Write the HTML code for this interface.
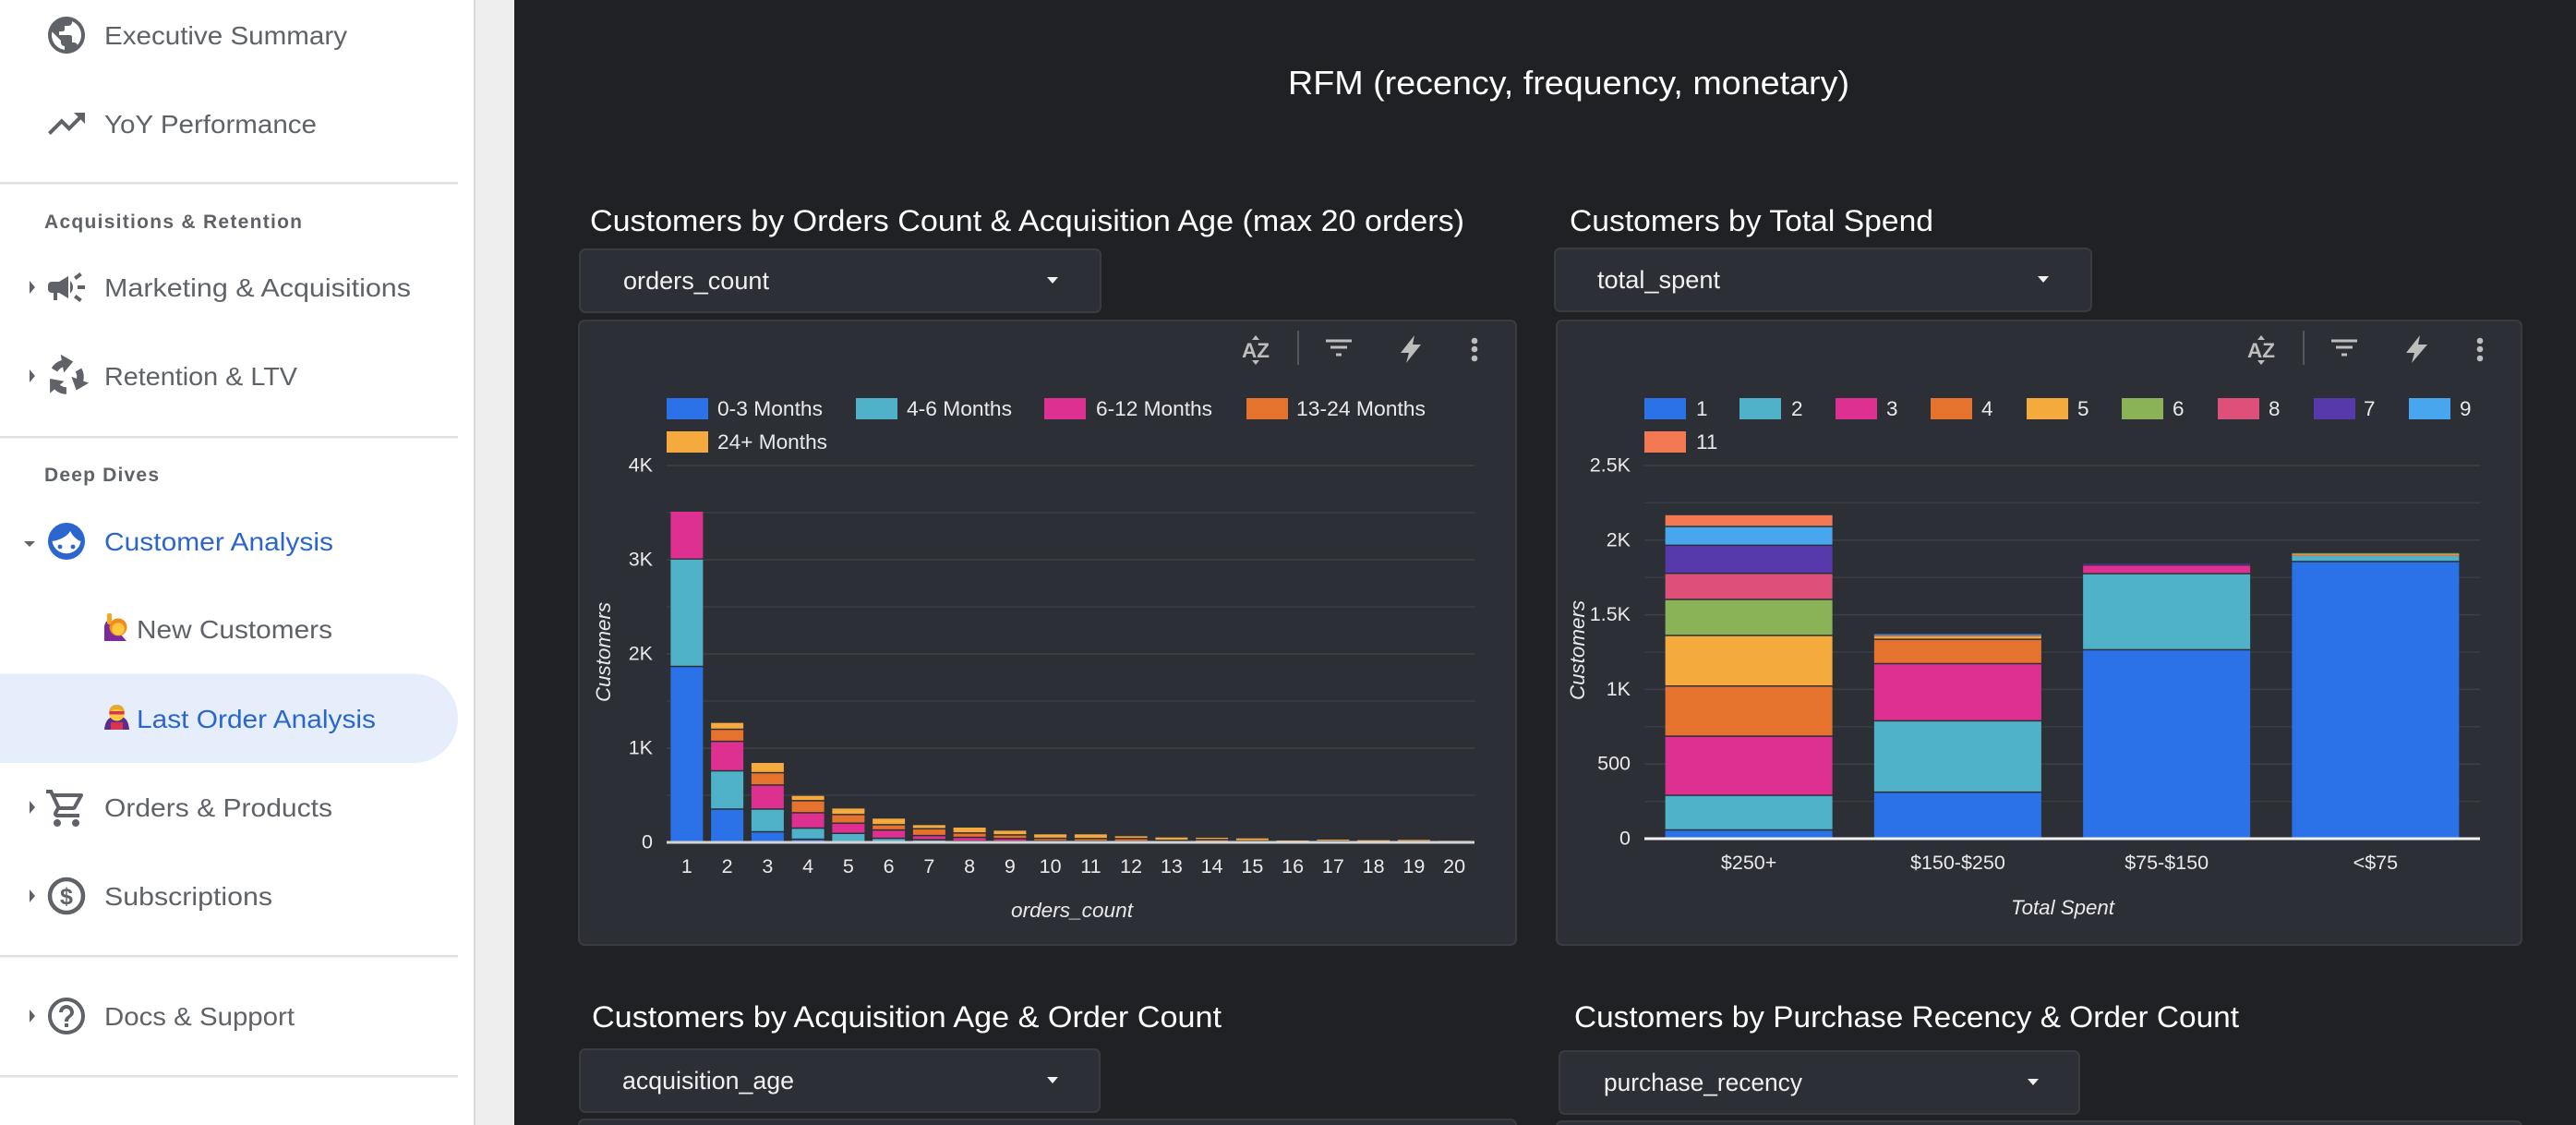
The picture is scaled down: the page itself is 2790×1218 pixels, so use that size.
<!DOCTYPE html>
<html lang="en">
<head>
<meta charset="utf-8">
<title>RFM Dashboard</title>
<style>
html,body{margin:0;padding:0;background:#202124;width:2790px;height:1218px;overflow:hidden}
svg{display:block;font-family:"Liberation Sans",sans-serif}
.nav{font-size:28px;fill:#5f6368}
.nav.active{fill:#2b66cf}
.hdr{font-size:21px;fill:#5f6368;font-weight:bold}
.ttl{font-size:32.5px;fill:#fff}
.dd{font-size:26.5px;fill:#f1f1f1}
.lg{font-size:22.5px;fill:#e8eaed}
.card{fill:#2d2f36;stroke:#393b41;stroke-width:2}
.ddbox{fill:#2d2f36;stroke:#393b41;stroke-width:2}
.ic{fill:#5f6368}
.tool{fill:#bdbdbd}
</style>
</head>
<body>
<svg id="page" xmlns="http://www.w3.org/2000/svg" width="2790" height="1218" viewBox="0 0 2790 1218">
  <rect x="0" y="0" width="2790" height="1218" fill="#202124"/>
  <rect x="513" y="0" width="44" height="1218" fill="#eeeeee"/>
  <rect x="0" y="0" width="513" height="1218" fill="#ffffff"/>
  <rect x="513" y="0" width="2" height="1218" fill="#d9dae0"/>

  <g>
    <rect x="-60" y="729.5" width="556" height="96.5" rx="48" fill="#e6eefb"/>
    <rect x="0" y="197" width="496" height="2.5" fill="#e0e0e0"/>
    <rect x="0" y="472" width="496" height="2.5" fill="#e0e0e0"/>
    <rect x="0" y="1034" width="496" height="2.5" fill="#e0e0e0"/>
    <rect x="0" y="1164" width="496" height="2.5" fill="#e0e0e0"/>

    <path class="ic" transform="translate(48,14) scale(2)" d="M12 2C6.48 2 2 6.48 2 12s4.48 10 10 10 10-4.48 10-10S17.52 2 12 2zm-1 17.93c-3.95-.49-7-3.85-7-7.93 0-.62.08-1.21.21-1.79L9 15v1c0 1.1.9 2 2 2v1.93zm6.9-2.54c-.26-.81-1-1.39-1.9-1.39h-1v-3c0-.55-.45-1-1-1H8v-2h2c.55 0 1-.45 1-1V7h2c1.1 0 2-.9 2-2v-.41c2.93 1.19 5 4.06 5 7.41 0 2.08-.8 3.97-2.1 5.39z"/>
    <text class="nav" x="113" y="48" textLength="263" lengthAdjust="spacingAndGlyphs">Executive Summary</text>

    <path class="ic" transform="translate(48,110) scale(2)" d="M16 6l2.29 2.29-4.88 4.88-4-4L2 16.59 3.41 18l6-6 4 4 6.3-6.29L22 12V6z"/>
    <text class="nav" x="113" y="144" textLength="230" lengthAdjust="spacingAndGlyphs">YoY Performance</text>

    <text class="hdr" x="48" y="247" textLength="279" lengthAdjust="spacing">Acquisitions &amp; Retention</text>

    <polygon class="ic" points="32,304 38,311 32,318"/>
    <path class="ic" transform="translate(48,287) scale(2)" d="M18 11v2h4v-2h-4zm-2 6.61c.96.71 2.21 1.65 3.2 2.39.4-.53.8-1.07 1.2-1.6-.99-.74-2.24-1.68-3.2-2.4-.4.54-.8 1.08-1.2 1.61zM20.4 5.6c-.4-.53-.8-1.07-1.2-1.6-.99.74-2.24 1.68-3.2 2.4.4.53.8 1.07 1.2 1.6.96-.72 2.21-1.65 3.2-2.4zM4 9c-1.1 0-2 .9-2 2v2c0 1.1.9 2 2 2h1v4h2v-4h1l5 3V6L8 9H4zm11.5 3c0-1.33-.58-2.53-1.5-3.35v6.69c.92-.81 1.5-2.01 1.5-3.34z"/>
    <text class="nav" x="113" y="321" textLength="332" lengthAdjust="spacingAndGlyphs">Marketing &amp; Acquisitions</text>

    <polygon class="ic" points="32,400 38,407 32,414"/>
    <g>
      <circle cx="72" cy="408" r="15" fill="none" stroke="#5f6368" stroke-width="7.5" stroke-dasharray="11.8 19.6" transform="rotate(-150 72 408)"/>
      <polygon class="ic" transform="translate(72,408) rotate(-10)" points="-2,-25 -2,-5 10,-15"/>
      <polygon class="ic" transform="translate(72,408) rotate(110)" points="-2,-25 -2,-5 10,-15"/>
      <polygon class="ic" transform="translate(72,408) rotate(230)" points="-2,-25 -2,-5 10,-15"/>
    </g>
    <text class="nav" x="113" y="417" textLength="209" lengthAdjust="spacingAndGlyphs">Retention &amp; LTV</text>

    <text class="hdr" x="48" y="521" textLength="124" lengthAdjust="spacing">Deep Dives</text>

    <polygon class="ic" points="26,586 38,586 32,592"/>
    <g>
      <circle cx="72" cy="586" r="20" fill="#2b66cf"/>
      <path d="M56.5 586 C63 585 72 582 76 575 C79 581 84 585 87.500 586 A15.7 15.7 0 0 1 56.500 586 Z" fill="#fff"/>
      <circle cx="65" cy="592" r="2.4" fill="#2b66cf"/>
      <circle cx="79" cy="592" r="2.4" fill="#2b66cf"/>
    </g>
    <text class="nav active" x="113" y="596" textLength="248" lengthAdjust="spacingAndGlyphs">Customer Analysis</text>

    <g>
      <path d="M113 694 L113 678 Q114 672 118 672 L120 682 L130 686 L137 694 Z" fill="#7b2a9c"/>
      <rect x="116" y="664" width="5" height="12" rx="2" fill="#f5a623"/>
      <circle cx="128" cy="679" r="9.5" fill="#f08c1e"/>
      <circle cx="128" cy="681" r="6.8" fill="#ffc83d"/>
    </g>
    <text class="nav" x="148" y="691" textLength="212" lengthAdjust="spacingAndGlyphs">New Customers</text>

    <g>
      <path d="M113 790 Q114 778 122 776 L132 776 Q139 778 140 790 Z" fill="#5b2d8e"/>
      <rect x="120" y="782" width="13" height="8" fill="#d8344f"/>
      <circle cx="126.500" cy="772" r="8.500" fill="#ffc83d"/>
      <path d="M118 771 Q119 763 126.500 763 Q134 763 135 771 Q126.500 765 118 771 Z" fill="#e8a82c"/>
      <rect x="118.500" y="770" width="16" height="3.500" fill="#d8344f"/>
    </g>
    <text class="nav active" x="148" y="788" textLength="259" lengthAdjust="spacingAndGlyphs">Last Order Analysis</text>

    <polygon class="ic" points="32,867 38,874 32,881"/>
    <path class="ic" transform="translate(48,851) scale(2)" d="M15.55 13c.75 0 1.41-.41 1.75-1.03l3.58-6.49c.37-.66-.11-1.48-.87-1.48H5.21l-.94-2H1v2h2l3.6 7.59-1.35 2.44C4.52 15.37 5.48 17 7 17h12v-2H7l1.1-2h7.45zM6.16 6h12.15l-2.76 5H8.53L6.16 6zM7 18c-1.1 0-1.99.9-1.99 2S5.9 22 7 22s2-.9 2-2-.9-2-2-2zm10 0c-1.1 0-1.99.9-1.99 2s.89 2 1.99 2 2-.9 2-2-.9-2-2-2z"/>
    <text class="nav" x="113" y="884" textLength="247" lengthAdjust="spacingAndGlyphs">Orders &amp; Products</text>

    <polygon class="ic" points="32,963 38,970 32,977"/>
    <g>
      <circle cx="72" cy="970" r="18" fill="none" stroke="#5f6368" stroke-width="4.500"/>
      <text x="72" y="979" text-anchor="middle" font-size="25" font-weight="bold" fill="#5f6368">$</text>
    </g>
    <text class="nav" x="113" y="980" textLength="182" lengthAdjust="spacingAndGlyphs">Subscriptions</text>

    <polygon class="ic" points="32,1093 38,1100 32,1107"/>
    <path class="ic" transform="translate(48,1076) scale(2)" d="M11 18h2v-2h-2v2zm1-16C6.48 2 2 6.48 2 12s4.48 10 10 10 10-4.48 10-10S17.52 2 12 2zm0 18c-4.41 0-8-3.59-8-8s3.59-8 8-8 8 3.59 8 8-3.59 8-8 8zm0-14c-2.21 0-4 1.79-4 4h2c0-1.1.9-2 2-2s2 .9 2 2c0 2-3 1.75-3 5h2c0-2.25 3-2.5 3-5 0-2.21-1.79-4-4-4z"/>
    <text class="nav" x="113" y="1110" textLength="206" lengthAdjust="spacingAndGlyphs">Docs &amp; Support</text>
  </g>

  <text x="1395" y="102" font-size="36" fill="#fff" textLength="608" lengthAdjust="spacingAndGlyphs">RFM (recency, frequency, monetary)</text>

  <text class="ttl" x="639" y="250" textLength="947" lengthAdjust="spacingAndGlyphs">Customers by Orders Count &amp; Acquisition Age (max 20 orders)</text>
  <text class="ttl" x="1700" y="250" textLength="394" lengthAdjust="spacingAndGlyphs">Customers by Total Spend</text>
  <text class="ttl" x="641" y="1112" textLength="682" lengthAdjust="spacingAndGlyphs">Customers by Acquisition Age &amp; Order Count</text>
  <text class="ttl" x="1705" y="1112" textLength="720" lengthAdjust="spacingAndGlyphs">Customers by Purchase Recency &amp; Order Count</text>

  <g>
    <rect class="ddbox" x="628" y="270" width="564" height="68" rx="6"/>
    <text class="dd" x="675" y="313" textLength="158" lengthAdjust="spacingAndGlyphs">orders_count</text>
    <polygon points="1134,300 1146,300 1140,307" fill="#f1f1f1"/>
  </g>
  <g>
    <rect class="ddbox" x="1684" y="269" width="581" height="68" rx="6"/>
    <text class="dd" x="1730" y="312" textLength="133" lengthAdjust="spacingAndGlyphs">total_spent</text>
    <polygon points="2207,299 2219,299 2213,306" fill="#f1f1f1"/>
  </g>
  <g>
    <rect class="ddbox" x="628" y="1136" width="563" height="68" rx="6"/>
    <text class="dd" x="674" y="1179" textLength="186" lengthAdjust="spacingAndGlyphs">acquisition_age</text>
    <polygon points="1134,1166 1146,1166 1140,1173" fill="#f1f1f1"/>
  </g>
  <g>
    <rect class="ddbox" x="1689" y="1138" width="563" height="68" rx="6"/>
    <text class="dd" x="1737" y="1181" textLength="215" lengthAdjust="spacingAndGlyphs">purchase_recency</text>
    <polygon points="2196,1168 2208,1168 2202,1175" fill="#f1f1f1"/>
  </g>

  <rect class="card" x="627" y="347" width="1015" height="676" rx="6"/>
  <rect class="card" x="1686" y="347" width="1045" height="676" rx="6"/>
  <rect class="card" x="627" y="1212" width="1015" height="60" rx="6"/>
  <rect class="card" x="1686" y="1214" width="1045" height="60" rx="6"/>

  <g>
    <g>
      <text class="tool" x="1360" y="387" text-anchor="middle" font-size="22" font-weight="bold" textLength="30" lengthAdjust="spacingAndGlyphs">AZ</text>
      <polygon class="tool" points="1356,368 1364,368 1360,363"/>
      <polygon class="tool" points="1356,390 1364,390 1360,395"/>
    </g>
    <rect x="1405" y="358" width="2" height="37" fill="#55575c"/>
    <g class="tool">
      <rect x="1436" y="367.500" width="28" height="3"/><rect x="1441" y="374.500" width="18" height="3"/><rect x="1447" y="382.500" width="6" height="3"/>
    </g>
    <polygon class="tool" points="1532,363 1517,382 1526,382 1523,393 1539,373 1530,373"/>
    <g class="tool">
      <circle cx="1597" cy="369" r="3.300"/><circle cx="1597" cy="378" r="3.300"/><circle cx="1597" cy="388" r="3.300"/>
    </g>
  </g>
  <g>
    <g>
      <text class="tool" x="2449" y="387" text-anchor="middle" font-size="22" font-weight="bold" textLength="30" lengthAdjust="spacingAndGlyphs">AZ</text>
      <polygon class="tool" points="2445,368 2453,368 2449,363"/>
      <polygon class="tool" points="2445,390 2453,390 2449,395"/>
    </g>
    <rect x="2494" y="358" width="2" height="37" fill="#55575c"/>
    <g class="tool">
      <rect x="2525" y="367.500" width="28" height="3"/><rect x="2530" y="374.500" width="18" height="3"/><rect x="2536" y="382.500" width="6" height="3"/>
    </g>
    <polygon class="tool" points="2621,363 2606,382 2615,382 2612,393 2629,373 2619,373"/>
    <g class="tool">
      <circle cx="2686" cy="369" r="3.300"/><circle cx="2686" cy="378" r="3.300"/><circle cx="2686" cy="388" r="3.300"/>
    </g>
  </g>

  <g>
    <g><rect x="722" y="431" width="45" height="23" fill="#2b72e8"/><text class="lg" x="777" y="450" textLength="114" lengthAdjust="spacingAndGlyphs">0-3 Months</text></g>
    <g><rect x="927" y="431" width="45" height="23" fill="#50b2c8"/><text class="lg" x="982" y="450" textLength="114" lengthAdjust="spacingAndGlyphs">4-6 Months</text></g>
    <g><rect x="1131" y="431" width="45" height="23" fill="#de3090"/><text class="lg" x="1187" y="450" textLength="126" lengthAdjust="spacingAndGlyphs">6-12 Months</text></g>
    <g><rect x="1350" y="431" width="45" height="23" fill="#e5732d"/><text class="lg" x="1404" y="450" textLength="140" lengthAdjust="spacingAndGlyphs">13-24 Months</text></g>
    <g><rect x="722" y="467" width="45" height="23" fill="#f4aa3c"/><text class="lg" x="777" y="486" textLength="119" lengthAdjust="spacingAndGlyphs">24+ Months</text></g>
  </g>
  <g>
    <g><rect x="1781" y="431" width="45" height="23" fill="#2b72e8"/><text class="lg" x="1837" y="450">1</text></g>
    <g><rect x="1884" y="431" width="45" height="23" fill="#50b2c8"/><text class="lg" x="1940" y="450">2</text></g>
    <g><rect x="1988" y="431" width="45" height="23" fill="#de3090"/><text class="lg" x="2043" y="450">3</text></g>
    <g><rect x="2091" y="431" width="45" height="23" fill="#e5732d"/><text class="lg" x="2146" y="450">4</text></g>
    <g><rect x="2195" y="431" width="45" height="23" fill="#f4aa3c"/><text class="lg" x="2250" y="450">5</text></g>
    <g><rect x="2298" y="431" width="45" height="23" fill="#8ab257"/><text class="lg" x="2353" y="450">6</text></g>
    <g><rect x="2402" y="431" width="45" height="23" fill="#dc5079"/><text class="lg" x="2457" y="450">8</text></g>
    <g><rect x="2506" y="431" width="45" height="23" fill="#5639ab"/><text class="lg" x="2560" y="450">7</text></g>
    <g><rect x="2609" y="431" width="45" height="23" fill="#47a6ee"/><text class="lg" x="2664" y="450">9</text></g>
    <g><rect x="1781" y="467" width="45" height="23" fill="#f27951"/><text class="lg" x="1837" y="486">11</text></g>
  </g>

  <g id="orders-chart"></g>
  <g id="spend-chart"></g>
</svg>

<script>
// Orders chart data
const orderCategories = ['1','2','3','4','5','6','7','8','9','10','11','12','13','14','15','16','17','18','19','20'];
const age0to3   = [1860,346,105,26,0,0,0,0,0,0,0,0,0,0,0,0,0,0,0,0];
const age4to6   = [1140,406,241,118,88,36,20,5,3,0,0,0,0,0,0,0,0,0,0,0];
const age6to12  = [510,313,255,163,108,88,45,41,30,8,5,3,2,0,0,0,0,0,0,0];
const age13to24 = [0,128,131,128,92,56,72,46,39,28,28,30,12,22,8,3,5,3,4,2];
const age24plus = [0,75,111,58,71,72,46,65,52,49,52,32,38,27,34,17,24,20,22,14];
const orderTickValues = [0,1000,2000,3000,4000];
const orderTickLabels = ['0','1K','2K','3K','4K'];
const orderMinorTicks = [500,1500,2500,3500];

// Spend chart data
const spendCategories = ['$250+','$150-$250','$75-$150','<$75'];
const spendOrders1  = [54,307,1261,1852];
const spendOrders2  = [232,478,510,45];
const spendOrders3  = [396,383,58,4];
const spendOrders4  = [336,163,0,2];
const spendOrders5  = [339,24,0,2];
const spendOrders6  = [241,5,0,8];
const spendOrders8  = [175,3,0,0];
const spendOrders7  = [188,0,12,0];
const spendOrders9  = [126,7,0,0];
const spendOrders11 = [80,0,0,0];
const spendTickValues = [0,500,1000,1500,2000,2500];
const spendTickLabels = ['0','500','1K','1.5K','2K','2.5K'];
const spendMinorTicks = [250,750,1250,1750,2250];

const SVGNS = 'http://www.w3.org/2000/svg';
function mk(parent, tag, attrs, txt) {
  const el = document.createElementNS(SVGNS, tag);
  for (const k in attrs) el.setAttribute(k, attrs[k]);
  if (txt !== undefined) el.textContent = txt;
  parent.appendChild(el);
  return el;
}

function drawChart(root, cfg) {
  const yOf = v => cfg.y0 - (v / cfg.yMax) * (cfg.y0 - cfg.yTop);
  const step = (cfg.x1 - cfg.x0) / cfg.categories.length;
  const xOf = i => cfg.x0 + (i + 0.5) * step;
  const barW = step * cfg.barRatio;

  cfg.minor.forEach(v => {
    const gl = mk(root, 'rect', {x: cfg.x0, y: yOf(v) - 0.75, width: cfg.x1 - cfg.x0, height: 1.5, fill: '#3b3d43'});
    
    
  });
  cfg.ticks.forEach((v, i) => {
    if (v !== 0) {
      const gl = mk(root, 'rect', {x: cfg.x0, y: yOf(v) - 0.75, width: cfg.x1 - cfg.x0, height: 1.5, fill: '#3e4046'});
      
      
    }
    const tl = mk(root, 'text', {x: cfg.x0 - 15, y: yOf(v) + 6.5, 'text-anchor': 'end', 'font-size': 21.5, fill: '#e8eaed'}, cfg.tickLabels[i]);
    
    
  });

  cfg.categories.forEach((cat, i) => {
    let cum = 0;
    cfg.series.forEach((values, s) => {
      const val = values[i];
      if (val <= 0) return;
      const top = yOf(cum + val);
      const bottom = yOf(cum);
      cum += val;
      const h = Math.max(bottom - top - 1.5, 1);
      const seg = mk(root, 'rect', {x: xOf(i) - barW / 2, y: top, width: barW, height: h, fill: cfg.colors[s]});
      
      
    });
    const xl = mk(root, 'text', {x: xOf(i), y: cfg.xLabelY, 'text-anchor': 'middle', 'font-size': 21.5, fill: '#e8eaed'}, cat);
    
    
  });

  const axis = mk(root, 'rect', {x: cfg.x0, y: cfg.y0 - 1.5, width: cfg.x1 - cfg.x0, height: 3, fill: cfg.axisColor});
  
  

  const xt = mk(root, 'text', {x: cfg.xTitleX, y: cfg.xTitleY, 'text-anchor': 'middle', 'font-size': 22, 'font-style': 'italic', fill: '#e8eaed', textLength: cfg.xTitleLen, lengthAdjust: 'spacingAndGlyphs'}, cfg.xTitle);
  
  

  const yt = mk(root, 'text', {transform: 'translate(' + cfg.yTitleX + ',' + cfg.yTitleY + ') rotate(-90)', 'text-anchor': 'middle', 'font-size': 22, 'font-style': 'italic', fill: '#e8eaed', textLength: 108, lengthAdjust: 'spacingAndGlyphs'}, 'Customers');
  
  
}

drawChart(document.getElementById('orders-chart'), {
  categories: orderCategories,
  series: [age0to3, age4to6, age6to12, age13to24, age24plus],
  colors: ['#2b72e8','#50b2c8','#de3090','#e5732d','#f4aa3c'],
  ticks: orderTickValues, tickLabels: orderTickLabels, minor: orderMinorTicks,
  x0: 722, x1: 1597, y0: 912, yTop: 504, yMax: 4000, barRatio: 0.8,
  xLabelY: 945, xTitle: 'orders_count', xTitleX: 1161, xTitleY: 993, xTitleLen: 132,
  yTitleX: 661, yTitleY: 706, axisColor: '#d4d4d4'
});

drawChart(document.getElementById('spend-chart'), {
  categories: spendCategories,
  series: [spendOrders1, spendOrders2, spendOrders3, spendOrders4, spendOrders5, spendOrders6, spendOrders8, spendOrders7, spendOrders9, spendOrders11],
  colors: ['#2b72e8','#50b2c8','#de3090','#e5732d','#f4aa3c','#8ab257','#dc5079','#5639ab','#47a6ee','#f27951'],
  ticks: spendTickValues, tickLabels: spendTickLabels, minor: spendMinorTicks,
  x0: 1781, x1: 2686, y0: 908, yTop: 504, yMax: 2500, barRatio: 0.8,
  xLabelY: 941, xTitle: 'Total Spent', xTitleX: 2234, xTitleY: 990, xTitleLen: 112,
  yTitleX: 1716, yTitleY: 704, axisColor: '#f2f2f2'
});
</script>
</body>
</html>
